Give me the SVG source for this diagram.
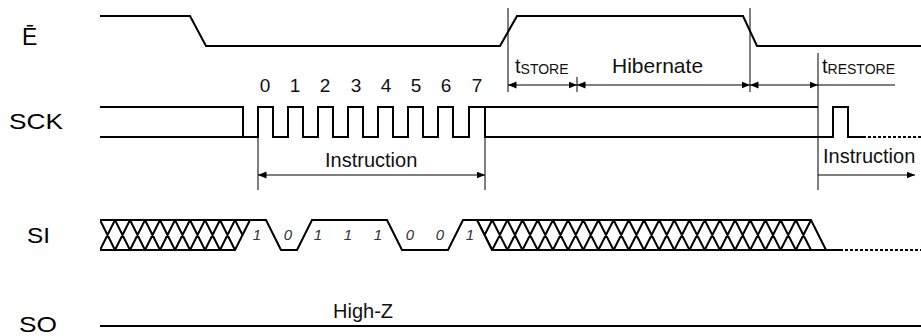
<svg xmlns="http://www.w3.org/2000/svg" width="921" height="336" viewBox="0 0 921 336">
<style>
.sig{stroke:#000;stroke-width:2;fill:none;stroke-linejoin:miter}
.dot{stroke:#000;stroke-width:2;fill:none;stroke-dasharray:3,2}
.hat{stroke:#000;stroke-width:2;fill:none}
.dim{stroke:#000;stroke-width:1;fill:none}
.lbl{font-family:"Liberation Sans",Arial,sans-serif;font-size:22px;fill:#000}
.txt{font-family:"Liberation Sans",Arial,sans-serif;font-size:20px;fill:#111}
.num{font-family:"Liberation Sans",Arial,sans-serif;font-size:19px;fill:#111;text-anchor:middle}
.bit{font-family:"Liberation Sans",Arial,sans-serif;font-size:15px;font-style:italic;fill:#333;text-anchor:middle}
</style>
<defs>
<marker id="ah" markerWidth="9" markerHeight="8" refX="8.5" refY="3.5" orient="auto-start-reverse" markerUnits="userSpaceOnUse">
<path d="M0,0 L8.5,3.5 L0,7 z" fill="#000"/>
</marker>
<clipPath id="cl"><polygon points="100,218 250,218 250,220 235,250 235,252 100,252"/></clipPath>
<clipPath id="cr"><polygon points="477,218 811,218 811,220 826,250 826,252 492,252 492,250 477,220"/></clipPath>
</defs>

<g id="labels">
<text class="lbl" x="22" y="45" font-size="23" style="font-size:23px">Ē</text>
<text class="lbl" x="9" y="129" textLength="54" lengthAdjust="spacingAndGlyphs">SCK</text>
<text class="lbl" x="27" y="243" textLength="23" lengthAdjust="spacingAndGlyphs">SI</text>
<text class="lbl" x="19" y="332" textLength="38" lengthAdjust="spacingAndGlyphs">SO</text>
</g>

<g id="E">
<path class="sig" d="M100,16 H190 L206,46 H500 L517,16 H743 L757,46 H921"/>
</g>

<g id="SCK">
<path class="sig" d="M100,107 H243 V137"/>
<path class="sig" d="M100,137 H258 V107 H273 V137 H288 V107 H303 V137 H318 V107 H333 V137 H348 V107 H363 V137 H378 V107 H393 V137 H408 V107 H423 V137 H438 V107 H453 V137 H469 V107 H818"/>
<path class="sig" d="M485,107 V137 H833 V107 H848 V137 H863"/>
<path class="dot" d="M863,137 H921"/>
<text class="num" x="265" y="92">0</text>
<text class="num" x="295" y="92">1</text>
<text class="num" x="325" y="92">2</text>
<text class="num" x="356" y="92">3</text>
<text class="num" x="386" y="92">4</text>
<text class="num" x="416" y="92">5</text>
<text class="num" x="446" y="92">6</text>
<text class="num" x="477" y="92">7</text>
</g>

<g id="SI">
<g clip-path="url(#cl)">
<path class="hat" d="M100,220 L115,250 M115,220 L130,250 M130,220 L145,250 M145,220 L160,250 M160,220 L175,250 M175,220 L190,250 M190,220 L205,250 M205,220 L220,250 M220,220 L235,250 M235,220 L250,250 M100,250 L115,220 M115,250 L130,220 M130,250 L145,220 M145,250 L160,220 M160,250 L175,220 M175,250 L190,220 M190,250 L205,220 M205,250 L220,220 M220,250 L235,220"/>
</g>
<g clip-path="url(#cr)">
<path class="hat" d="M477,220 L492.2,250 M492.2,220 L507.4,250 M507.4,220 L522.5,250 M522.5,220 L537.7,250 M537.7,220 L552.9,250 M552.9,220 L568.1,250 M568.1,220 L583.3,250 M583.3,220 L598.4,250 M598.4,220 L613.6,250 M613.6,220 L628.8,250 M628.8,220 L644,250 M644,220 L659.2,250 M659.2,220 L674.3,250 M674.3,220 L689.5,250 M689.5,220 L704.7,250 M704.7,220 L719.9,250 M719.9,220 L735.1,250 M735.1,220 L750.2,250 M750.2,220 L765.4,250 M765.4,220 L780.6,250 M780.6,220 L795.8,250 M795.8,220 L811,250 M477,250 L492.2,220 M492.2,250 L507.4,220 M507.4,250 L522.5,220 M522.5,250 L537.7,220 M537.7,250 L552.9,220 M552.9,250 L568.1,220 M568.1,250 L583.3,220 M583.3,250 L598.4,220 M598.4,250 L613.6,220 M613.6,250 L628.8,220 M628.8,250 L644,220 M644,250 L659.2,220 M659.2,250 L674.3,220 M674.3,250 L689.5,220 M689.5,250 L704.7,220 M704.7,250 L719.9,220 M719.9,250 L735.1,220 M735.1,250 L750.2,220 M750.2,250 L765.4,220 M765.4,250 L780.6,220 M780.6,250 L795.8,220 M795.8,250 L811,220"/>
</g>
<path class="sig" d="M100,220 H266 L281,250 H297 L312,220 H387 L402,250 H448 L463,220 H811 L826,250 H840"/>
<path class="sig" d="M100,250 H235 L250,220"/>
<path class="sig" d="M477,220 L492,250 H826"/>
<path class="dot" d="M840,250 H921"/>
<text class="bit" x="257" y="240">1</text>
<text class="bit" x="288" y="240">0</text>
<text class="bit" x="318" y="240">1</text>
<text class="bit" x="348" y="240">1</text>
<text class="bit" x="378" y="240">1</text>
<text class="bit" x="410" y="240">0</text>
<text class="bit" x="440" y="240">0</text>
<text class="bit" x="470" y="240">1</text>
</g>

<g id="SO">
<path class="sig" d="M100,326 H921"/>
<text class="txt" x="333" y="318">High-Z</text>
</g>

<g id="connectors">
<path class="dim" d="M508,8 V92"/>
<path class="dim" d="M577,77 V92"/>
<path class="dim" d="M750,8 V92"/>
<path class="dim" d="M818,53 V190"/>
<path class="dim" d="M258,137 V190"/>
<path class="dim" d="M485,107 V190"/>
<path class="dim" d="M508,85 H577" marker-start="url(#ah)" marker-end="url(#ah)"/>
<path class="dim" d="M577,85 H750" marker-start="url(#ah)" marker-end="url(#ah)"/>
<path class="dim" d="M750,85 H818" marker-start="url(#ah)" marker-end="url(#ah)"/>
<path class="dim" d="M818,85 H895"/>
<path class="dim" d="M258,175 H485" marker-start="url(#ah)" marker-end="url(#ah)"/>
<path class="dim" d="M818,175 H915" marker-end="url(#ah)"/>
</g>

<g id="dimension-labels">
<text class="txt" x="515" y="73">t<tspan font-size="14" dy="1">STORE</tspan></text>
<text class="txt" x="612" y="73" style="font-size:21px">Hibernate</text>
<text class="txt" x="822" y="73">t<tspan font-size="14" dy="1">RESTORE</tspan></text>
<text class="txt" x="325" y="167">Instruction</text>
<text class="txt" x="823" y="163">Instruction</text>
</g>
</svg>
